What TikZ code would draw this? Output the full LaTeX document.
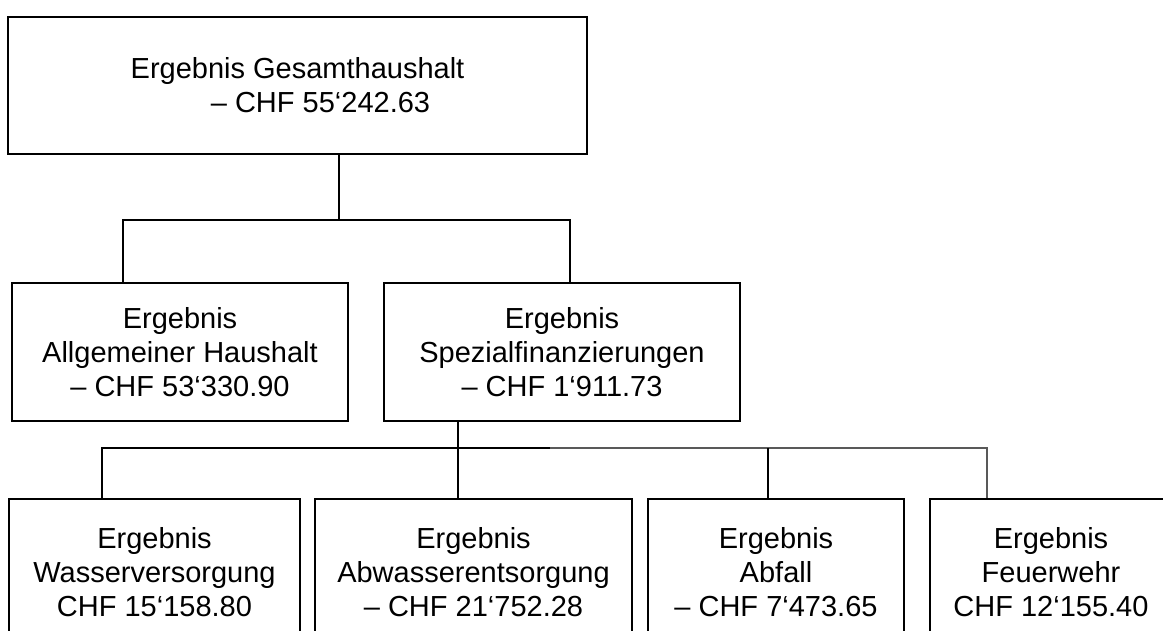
\documentclass[tikz,border=0pt]{standalone}
\usepackage{fontspec}
\setmainfont{Liberation Sans}

\begin{document}
\begin{tikzpicture}[x=1pt, y=-1pt,
    ergebnis/.style ={rectangle, draw, line width=2.5pt, align=center, inner sep=0pt,
      font=\fontsize{29}{34}\selectfont},
    verbindung/.style ={line width=2pt},
    duenn/.style ={line width=1.3pt, black!65}]
   \clip (0,0) rectangle (1163,630);

   \node[ergebnis, minimum width=579, minimum height=137] (G)  at (297.5,85.5)
     {Ergebnis Gesamthaushalt\\\hspace*{46pt}– CHF 55‘242.63};
   \node[ergebnis, minimum width=336, minimum height=138] (A)  at (180,352)
     {Ergebnis\\Allgemeiner Haushalt\\– CHF 53‘330.90};
   \node[ergebnis, minimum width=356, minimum height=138] (S)  at (562,352)
     {Ergebnis\\Spezialfinanzierungen\\– CHF 1‘911.73};
   \node[ergebnis, minimum width=291, minimum height=146] (W)  at (154.5,572)
     {Ergebnis\\Wasserversorgung\\CHF 15‘158.80};
   \node[ergebnis, minimum width=317, minimum height=146] (AB) at (473.5,572)
     {Ergebnis\\Abwasserentsorgung\\– CHF 21‘752.28};
   \node[ergebnis, minimum width=256, minimum height=146] (AF) at (776,572)
     {Ergebnis\\Abfall\\– CHF 7‘473.65};
   \node[ergebnis, minimum width=242, minimum height=146] (F)  at (1051,572)
     {Ergebnis\\Feuerwehr\\CHF 12‘155.40};

   \coordinate (g1) at (339,220);
   \coordinate (a1) at (123,220);
   \coordinate (s1) at (570,220);
   \coordinate (s2) at (458,448);
   \coordinate (w1) at (102,448);
   \coordinate (k1) at (550,448);
   \coordinate (af1) at (768,448);
   \coordinate (f1) at (987,448);

   \draw[verbindung] (G.south -| g1) to (g1);
   \draw[verbindung] (A.north -| a1) -- (a1) -- (s1) -- (S.north -| s1);
   \draw[verbindung] (S.south -| s2) to (AB.north -| s2);
   \draw[verbindung] (W.north -| w1) -- (w1) -- (k1);
   \draw[duenn] (k1) -- (f1) -- (F.north -| f1);
   \draw[verbindung] (af1) to (AF.north -| af1);
 \end{tikzpicture}
\end{document}
